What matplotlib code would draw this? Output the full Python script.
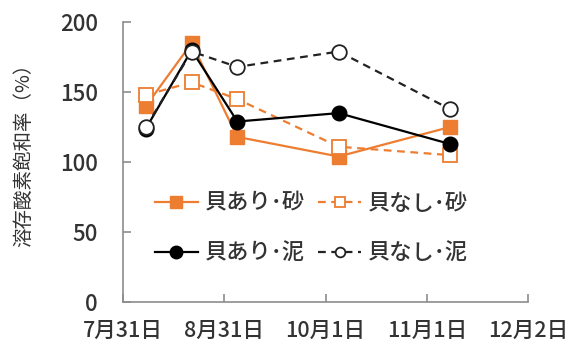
import datetime as dt

import matplotlib
matplotlib.use("Agg")
import matplotlib.dates as mdates
import matplotlib.pyplot as plt
from matplotlib.ticker import FuncFormatter

plt.rcParams["font.family"] = ["Noto Sans CJK JP", "DejaVu Sans"]
plt.rcParams["font.weight"] = "medium"

# sampling dates and dissolved-oxygen saturation (%)
dates = [dt.date(2015, 8, 7), dt.date(2015, 8, 21), dt.date(2015, 9, 4),
         dt.date(2015, 10, 5), dt.date(2015, 11, 8)]
shell_sand = [140, 185, 118, 104, 125]
noshell_sand = [148, 157, 145, 111, 105]
shell_mud = [124, 180, 129, 135, 113]
noshell_mud = [125, 179, 168, 179, 138]

tick_dates = [dt.date(2015, 7, 31), dt.date(2015, 8, 31), dt.date(2015, 10, 1),
              dt.date(2015, 11, 1), dt.date(2015, 12, 2)]
yticks = [0, 50, 100, 150, 200]

ORANGE = "#ED7D31"
GRAY = "#8c8c8c"
TEXT = "#333333"

fig = plt.figure(figsize=(5.77, 3.46), dpi=100)
ax = fig.add_axes([0.2132, 0.127, 0.702, 0.809])

ms = 10
lw = 1.6
ax.plot(dates, shell_sand, color=ORANGE, lw=lw, marker="s", ms=ms,
        mfc=ORANGE, mec=ORANGE, label="貝あり･砂")
ax.plot(dates, noshell_sand, color=ORANGE, lw=lw, ls=(0, (3.5, 2.5)), marker="s",
        ms=ms, mfc="white", mec=ORANGE, mew=1.3, label="貝なし･砂")
ax.plot(dates, shell_mud, color="black", lw=lw, marker="o", ms=ms + 0.5,
        mfc="black", mec="black", label="貝あり･泥")
ax.plot(dates, noshell_mud, color="#222222", lw=lw, ls=(0, (3.5, 2.5)), marker="o",
        ms=ms + 0.5, mfc="white", mec="#222222", mew=1.3, label="貝なし･泥")

ax.set_xlim(tick_dates[0], tick_dates[-1])
ax.set_ylim(0, 200)
ax.set_xticks(tick_dates)
ax.xaxis.set_major_formatter(FuncFormatter(
    lambda v, pos: "{}月{}日".format(mdates.num2date(v).month, mdates.num2date(v).day)))
ax.set_yticks(yticks)

for side in ("top", "right"):
    ax.spines[side].set_visible(False)
for side in ("left", "bottom"):
    ax.spines[side].set_color(GRAY)
    ax.spines[side].set_linewidth(1.2)
ax.tick_params(direction="in", length=6, width=1.2, color=GRAY,
               labelsize=16, labelcolor=TEXT)
ax.tick_params(axis="x", pad=13, labelsize=15.5)
ax.tick_params(axis="y", pad=18)

ax.set_ylabel("溶存酸素飽和率（%）", fontsize=14, color=TEXT)
ax.yaxis.set_label_coords(-0.22, 0.543)

handles, labels = ax.get_legend_handles_labels()
order = [0, 2, 1, 3]
leg = ax.legend([handles[i] for i in order], [labels[i] for i in order],
                ncol=2, loc="center", bbox_to_anchor=(0.465, 0.264),
                frameon=False, fontsize=16, handlelength=1.95, handletextpad=0.3,
                columnspacing=0.6, labelspacing=1.2)
for text in leg.get_texts():
    text.set_color(TEXT)
for h in leg.legend_handles[:2]:
    h.set_markersize(9)
for h in leg.legend_handles[2:]:
    h.set_markersize(7)

fig.savefig("out.png", dpi=100)
